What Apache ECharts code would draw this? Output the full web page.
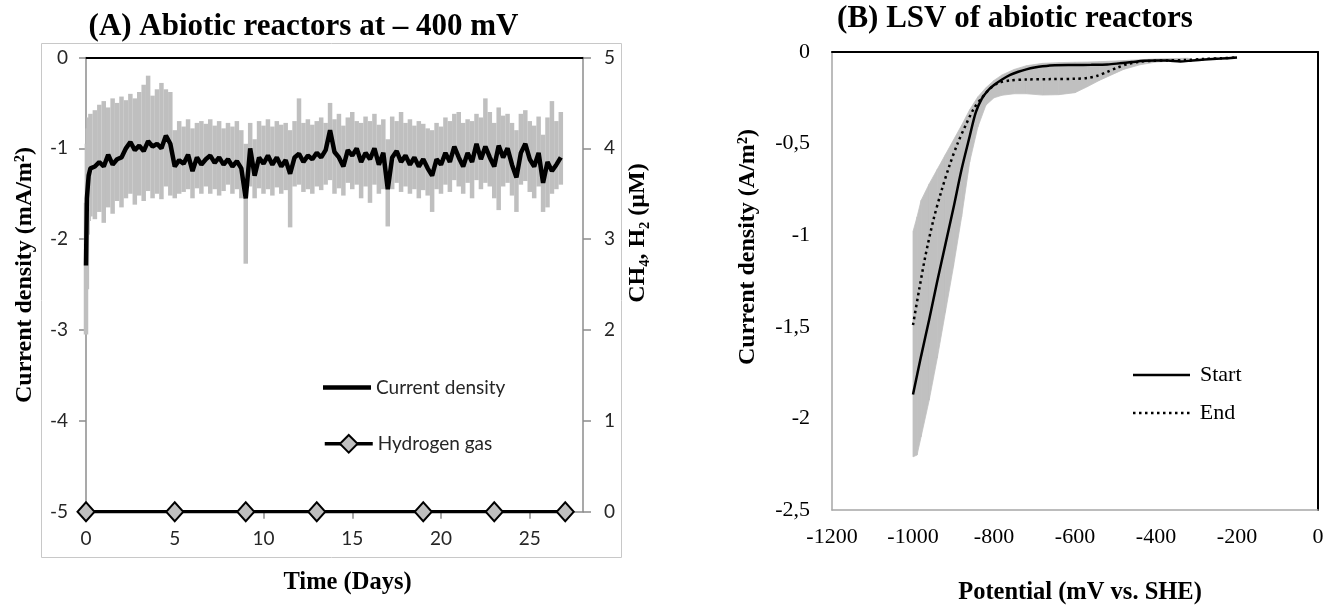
<!DOCTYPE html>
<html><head><meta charset="utf-8">
<script src="https://cdn.jsdelivr.net/npm/echarts@6/dist/echarts.min.js"></script>
<style>html,body{margin:0;padding:0;background:#fff}#c{width:1327px;height:606px}</style>
</head><body><div id="c"></div>
<script>
// ---------- Panel A: abiotic reactors at -400 mV ----------
const days = [
  0, 0.05, 0.1, 0.15,
  0.25, 0.5, 0.75, 1,   1.25, 1.5, 1.75, 2,   2.25, 2.5, 2.75, 3,   3.25, 3.5, 3.75, 4,
  4.25, 4.5, 4.75, 5,   5.25, 5.5, 5.75, 6,   6.25, 6.5, 6.75, 7,   7.25, 7.5, 7.75, 8,
  8.25, 8.5, 8.75, 9,   9.25, 9.5, 9.75, 10,  10.25, 10.5, 10.75, 11,  11.25, 11.5, 11.75, 12,
  12.25, 12.5, 12.75, 13,  13.25, 13.5, 13.75, 14,  14.25, 14.5, 14.75, 15,  15.25, 15.5, 15.75, 16,
  16.25, 16.5, 16.75, 17,  17.25, 17.5, 17.75, 18,  18.25, 18.5, 18.75, 19,  19.25, 19.5, 19.75, 20,
  20.25, 20.5, 20.75, 21,  21.25, 21.5, 21.75, 22,  22.25, 22.5, 22.75, 23,  23.25, 23.5, 23.75, 24,
  24.25, 24.5, 24.75, 25,  25.25, 25.5, 25.75, 26,  26.25, 26.5, 26.75
];
const currentMean = [
  -2.29, -1.55, -1.42, -1.3,
  -1.22, -1.2, -1.15, -1.2,   -1.07, -1.18, -1.12, -1.1,   -1.0, -0.93, -1.02, -0.97,   -1.03, -0.92, -0.98, -0.95,
  -1.0, -0.86, -0.95, -1.2,   -1.13, -1.17, -1.07, -1.25,  -1.1, -1.18, -1.12, -1.08,   -1.16, -1.1, -1.18, -1.12,
  -1.2, -1.14, -1.22, -1.55,  -1.0, -1.3, -1.1, -1.17,     -1.08, -1.18, -1.1, -1.2,    -1.13, -1.28, -1.1, -1.06,
  -1.15, -1.08, -1.12, -1.05, -1.1, -1.02, -0.8, -1.04,    -1.1, -1.2, -1.02, -1.08,    -1.0, -1.15, -1.05, -1.12,
  -1.0, -1.18, -1.05, -1.45,  -1.1, -1.03, -1.15, -1.08,   -1.18, -1.1, -1.2, -1.12,    -1.22, -1.3, -1.12, -1.18,
  -1.05, -1.15, -0.98, -1.1,  -1.2, -1.05, -1.15, -0.95,   -1.12, -0.98, -1.1, -1.2,    -0.97, -1.1, -1.0, -1.18,
  -1.32, -1.05, -0.95, -1.12, -1.2, -1.05, -1.38, -1.15,   -1.25, -1.18, -1.1
];
const currentLow = [
  -3.05, -2.55, -1.95, -1.8,
  -1.75, -1.78, -1.7, -1.82,  -1.65, -1.72, -1.58, -1.65,  -1.55, -1.5, -1.62, -1.52,   -1.58, -1.47, -1.55, -1.5,
  -1.56, -1.42, -1.52, -1.55, -1.5, -1.48, -1.45, -1.55,   -1.44, -1.5, -1.42, -1.5,    -1.45, -1.52, -1.47, -1.4,
  -1.5, -1.45, -1.55, -2.27,  -1.42, -1.55, -1.44, -1.5,   -1.45, -1.52, -1.43, -1.5,   -1.46, -1.87, -1.42, -1.4,
  -1.48, -1.45, -1.5, -1.42,  -1.46, -1.4, -1.35, -1.5,    -1.44, -1.52, -1.38, -1.45,  -1.4, -1.55, -1.42, -1.6,
  -1.4, -1.5, -1.45, -1.86,   -1.45, -1.38, -1.48, -1.42,  -1.5, -1.45, -1.55, -1.46,   -1.52, -1.7, -1.45, -1.5,
  -1.4, -1.48, -1.35, -1.42,  -1.5, -1.38, -1.55, -1.35,   -1.45, -1.38, -1.42, -1.55,  -1.68, -1.42, -1.38, -1.52,
  -1.7, -1.4, -1.36, -1.48,   -1.55, -1.42, -1.7, -1.65,   -1.5, -1.45, -1.4
];
const currentHigh = [
  -1.6, -0.95, -0.78, -0.66,
  -0.62, -0.58, -0.52, -0.48, -0.55, -0.45, -0.5, -0.43,   -0.47, -0.4, -0.45, -0.38,  -0.3, -0.2, -0.42, -0.35,
  -0.28, -0.35, -0.38, -0.8,  -0.7, -0.76, -0.68, -0.78,   -0.72, -0.7, -0.73, -0.68,  -0.75, -0.7, -0.78, -0.72,
  -0.76, -0.7, -0.8, -0.95,   -0.72, -0.9, -0.7, -0.75,    -0.68, -0.76, -0.7, -0.74,  -0.72, -0.8, -0.7, -0.45,
  -0.72, -0.68, -0.74, -0.7,  -0.66, -0.72, -0.5, -0.68,   -0.62, -0.75, -0.66, -0.6,  -0.7, -0.72, -0.65, -0.7,
  -0.62, -0.74, -0.68, -0.9,  -0.65, -0.7, -0.6, -0.72,    -0.68, -0.75, -0.7, -0.73,  -0.78, -0.8, -0.72, -0.76,
  -0.66, -0.7, -0.62, -0.6,   -0.72, -0.68, -0.7, -0.62,   -0.66, -0.45, -0.6, -0.72,  -0.55, -0.64, -0.62, -0.72,
  -0.8, -0.62, -0.58, -0.7,   -0.75, -0.65, -0.85, -0.66,  -0.48, -0.7, -0.6
];
const h2Days = [0, 5, 9, 13, 19, 23, 27];
const h2Values = [0, 0, 0, 0, 0, 0, 0];

// ---------- Panel B: LSV of abiotic reactors ----------
const lsvStartMv = [-1000,-980,-960,-940,-920,-900,-880,-860,-845,-830,-815,-800,-780,-760,-740,-720,-700,-680,-650,-600,-560,-520,-490,-460,-430,-400,-370,-340,-310,-280,-240,-200];
const lsvStart = [-1.87,-1.66,-1.46,-1.25,-1.05,-0.85,-0.64,-0.46,-0.33,-0.255,-0.21,-0.18,-0.15,-0.125,-0.108,-0.095,-0.085,-0.078,-0.072,-0.071,-0.07,-0.068,-0.062,-0.055,-0.048,-0.046,-0.047,-0.052,-0.046,-0.041,-0.036,-0.03];
const lsvEndMv = [-1000,-985,-970,-950,-930,-910,-890,-870,-850,-830,-810,-790,-760,-720,-660,-600,-570,-545,-520,-495,-470,-445,-410,-370,-330,-280,-240,-200];
const lsvEnd = [-1.49,-1.3,-1.12,-0.92,-0.76,-0.62,-0.5,-0.4,-0.31,-0.25,-0.2,-0.17,-0.155,-0.15,-0.148,-0.146,-0.142,-0.13,-0.108,-0.085,-0.066,-0.055,-0.048,-0.046,-0.044,-0.038,-0.034,-0.03];
const bandMv = [-1000,-990,-980,-960,-940,-920,-900,-880,-860,-840,-820,-800,-780,-750,-720,-680,-640,-600,-570,-540,-510,-480,-440,-400,-360,-320];
const bandLow = [-2.21,-2.2,-2.1,-1.9,-1.67,-1.42,-1.17,-0.9,-0.6,-0.41,-0.29,-0.25,-0.236,-0.228,-0.228,-0.235,-0.233,-0.222,-0.19,-0.155,-0.125,-0.095,-0.07,-0.055,-0.05,-0.045];
const bandHigh = [-0.98,-0.9,-0.81,-0.72,-0.64,-0.56,-0.48,-0.4,-0.315,-0.245,-0.195,-0.155,-0.125,-0.095,-0.075,-0.062,-0.058,-0.056,-0.055,-0.053,-0.05,-0.047,-0.042,-0.038,-0.036,-0.034];

const serif = '"Liberation Serif", "Times New Roman", serif';
const sans = 'Lato, "Open Sans", sans-serif';
const axisGray = '#8c8c8c';
const barGray = '#bfbfbf';
// dotted legend icon (10 square dots)
let dotPath = 'path://';
for (let k = 0; k < 10; k++) { const x0 = k * 6; dotPath += 'M' + x0 + ',0h2.5v2.5h-2.5z'; }

const chart = echarts.init(document.getElementById('c'), null, {renderer: 'canvas'});

const noSplit = {show: false};
const option = {
  animation: false,
  backgroundColor: '#fff',
  grid: [
    {left: 86, top: 57.5, width: 497, height: 454.2},
    {left: 832, top: 52, width: 486, height: 458}
  ],
  xAxis: [
    {gridIndex: 0, type: 'value', min: 0, max: 28, interval: 5, position: 'bottom',
     axisLine: {onZero: false, lineStyle: {color: axisGray, width: 1.5}},
     axisTick: {show: true, length: 7, lineStyle: {color: axisGray, width: 1.5}},
     axisLabel: {margin: 18, fontFamily: sans, fontSize: 19, color: '#262626', showMaxLabel: false},
     splitLine: noSplit},
    {gridIndex: 0, type: 'value', min: 0, max: 28, position: 'top',
     axisLine: {onZero: false, lineStyle: {color: '#000', width: 2}},
     axisTick: {show: false}, axisLabel: {show: false}, splitLine: noSplit},
    {gridIndex: 1, type: 'value', min: -1200, max: 0, interval: 200, position: 'bottom',
     axisLine: {onZero: false, lineStyle: {color: '#a6a6a6', width: 1.5}},
     axisTick: {show: false},
     axisLabel: {margin: 16, fontFamily: serif, fontSize: 22, color: '#000', formatter: v => String(v)},
     splitLine: noSplit},
    {gridIndex: 1, type: 'value', min: -1200, max: 0, position: 'top',
     axisLine: {onZero: false, lineStyle: {color: '#000', width: 2}},
     axisTick: {show: false}, axisLabel: {show: false}, splitLine: noSplit}
  ],
  yAxis: [
    {gridIndex: 0, type: 'value', min: -5, max: 0, interval: 1, position: 'left',
     axisLine: {show: true, onZero: false, lineStyle: {color: axisGray, width: 1.5}},
     axisTick: {show: true, length: 7, lineStyle: {color: axisGray, width: 1.5}},
     axisLabel: {margin: 18, fontFamily: sans, fontSize: 19, color: '#262626'},
     splitLine: noSplit},
    {gridIndex: 0, type: 'value', min: 0, max: 5, interval: 1, position: 'right',
     axisLine: {show: true, onZero: false, lineStyle: {color: axisGray, width: 1.5}},
     axisTick: {show: true, length: 8, lineStyle: {color: axisGray, width: 1.5}},
     axisLabel: {margin: 21, fontFamily: sans, fontSize: 19, color: '#262626'},
     splitLine: noSplit},
    {gridIndex: 1, type: 'value', min: -2.5, max: 0, interval: 0.5, position: 'left',
     axisLine: {show: true, onZero: false, lineStyle: {color: '#a6a6a6', width: 1.5}},
     axisTick: {show: false},
     axisLabel: {margin: 22, fontFamily: serif, fontSize: 22, color: '#000',
                 formatter: v => String(v).replace('.', ',')},
     splitLine: noSplit},
    {gridIndex: 1, type: 'value', min: -2.5, max: 0, position: 'right',
     axisLine: {show: true, onZero: false, lineStyle: {color: '#000', width: 2}},
     axisTick: {show: false}, axisLabel: {show: false}, splitLine: noSplit}
  ],
  legend: [
    {data: [{name: 'Current density', icon: 'rect'}], left: 318, top: 373, itemWidth: 48, itemHeight: 4.5, itemGap: 0,
     itemStyle: {color: '#000'}, textStyle: {fontFamily: sans, fontSize: 19, color: '#262626'}},
    {data: ['Hydrogen gas'], left: 318, top: 429, itemWidth: 48, itemHeight: 22, itemGap: 0,
     lineStyle: {width: 3.5, color: '#000'},
     textStyle: {fontFamily: sans, fontSize: 19, color: '#262626'}},
    {data: [{name: 'Start', icon: 'rect'}], left: 1128, top: 359, itemWidth: 57, itemHeight: 2.5, itemGap: 0,
     itemStyle: {color: '#000'}, textStyle: {fontFamily: serif, fontSize: 22, color: '#000', padding: [0, 0, 0, 5]}},
    {data: [{name: 'End', icon: dotPath}], left: 1128, top: 397, itemWidth: 57, itemHeight: 2.5, itemGap: 0,
     itemStyle: {color: '#000'}, textStyle: {fontFamily: serif, fontSize: 22, color: '#000', padding: [0, 0, 0, 5]}}
  ],
  series: [
    {
      name: 'errA', type: 'custom', xAxisIndex: 0, yAxisIndex: 0, z: 1,
      data: days.map((d, i) => [d, currentLow[i], currentHigh[i]]),
      encode: {x: 0, y: [1, 2]},
      renderItem: function (params, api) {
        const p1 = api.coord([api.value(0), api.value(1)]);
        const p2 = api.coord([api.value(0), api.value(2)]);
        return {type: 'line', shape: {x1: p1[0], y1: p1[1], x2: p2[0], y2: p2[1]},
                style: {stroke: barGray, lineWidth: 4.5}};
      },
      silent: true
    },
    {
      name: 'Current density', type: 'line', xAxisIndex: 0, yAxisIndex: 0, z: 3,
      data: days.map((d, i) => [d, currentMean[i]]),
      symbol: 'none', lineStyle: {color: '#000', width: 4.5}, itemStyle: {color: '#000'}
    },
    {
      name: 'Hydrogen gas', type: 'line', xAxisIndex: 0, yAxisIndex: 1, z: 4,
      data: h2Days.map((d, i) => [d, h2Values[i]]),
      symbol: 'diamond', symbolSize: [17, 19],
      lineStyle: {color: '#000', width: 3.5},
      itemStyle: {color: barGray, borderColor: '#000', borderWidth: 2}
    },
    {
      name: 'bandB', type: 'custom', xAxisIndex: 2, yAxisIndex: 2, z: 1,
      data: bandMv.map((m, i) => [m, bandLow[i], bandHigh[i]]),
      encode: {x: 0, y: [1, 2]},
      renderItem: function (params, api) {
        const i = params.dataIndex;
        if (i >= bandMv.length - 1) return null;
        const a = api.coord([bandMv[i], bandLow[i]]);
        const b = api.coord([bandMv[i + 1], bandLow[i + 1]]);
        const c = api.coord([bandMv[i + 1], bandHigh[i + 1]]);
        const d = api.coord([bandMv[i], bandHigh[i]]);
        return {type: 'polygon', shape: {points: [a, b, c, d]},
                style: {fill: '#c0c0c0', stroke: '#c0c0c0', lineWidth: 0.8}};
      },
      silent: true
    },
    {
      name: 'Start', type: 'line', xAxisIndex: 2, yAxisIndex: 2, z: 3,
      data: lsvStartMv.map((m, i) => [m, lsvStart[i]]),
      symbol: 'none', smooth: 0.3,
      lineStyle: {color: '#000', width: 2.5}, itemStyle: {color: '#000'}
    },
    {
      name: 'End', type: 'line', xAxisIndex: 2, yAxisIndex: 2, z: 3,
      data: lsvEndMv.map((m, i) => [m, lsvEnd[i]]),
      symbol: 'none', smooth: 0.3,
      lineStyle: {color: '#000', width: 2.5, type: [2.5, 3.5]}, itemStyle: {color: '#000'}
    }
  ],
  graphic: [
    {type: 'rect', z: -1, shape: {x: 41.5, y: 43.5, width: 580, height: 514},
     style: {fill: 'none', stroke: '#c8c8c8', lineWidth: 1}},
    {type: 'text', x: 303.5, y: 27, style: {text: '(A) Abiotic reactors at \u2013 400 mV',
      font: 'bold 31px ' + serif, fill: '#000', align: 'center', verticalAlign: 'middle', textAlign: 'center', textVerticalAlign: 'middle'}},
    {type: 'text', x: 1015, y: 19, style: {text: '(B) LSV of abiotic reactors',
      font: 'bold 31px ' + serif, fill: '#000', align: 'center', verticalAlign: 'middle', textAlign: 'center', textVerticalAlign: 'middle'}},
    {type: 'text', x: 25, y: 275, rotation: Math.PI / 2, style: {text: 'Current density (mA/m\u00b2)',
      font: 'bold 24px ' + serif, fill: '#000', align: 'center', verticalAlign: 'middle', textAlign: 'center', textVerticalAlign: 'middle'}},
    {type: 'text', x: 638, y: 233, rotation: Math.PI / 2, style: {text: 'CH\u2084, H\u2082 (\u00b5M)',
      font: 'bold 24px ' + serif, fill: '#000', align: 'center', verticalAlign: 'middle', textAlign: 'center', textVerticalAlign: 'middle'}},
    {type: 'text', x: 347.5, y: 583, style: {text: 'Time (Days)',
      font: 'bold 24.5px ' + serif, fill: '#000', align: 'center', verticalAlign: 'middle', textAlign: 'center', textVerticalAlign: 'middle'}},
    {type: 'text', x: 748, y: 247, rotation: Math.PI / 2, style: {text: 'Current density (A/m\u00b2)',
      font: 'bold 24px ' + serif, fill: '#000', align: 'center', verticalAlign: 'middle', textAlign: 'center', textVerticalAlign: 'middle'}},
    {type: 'text', x: 1080, y: 593, style: {text: 'Potential (mV vs. SHE)',
      font: 'bold 24.5px ' + serif, fill: '#000', align: 'center', verticalAlign: 'middle', textAlign: 'center', textVerticalAlign: 'middle'}}
  ]
};
chart.setOption(option);
</script>
</body></html>
